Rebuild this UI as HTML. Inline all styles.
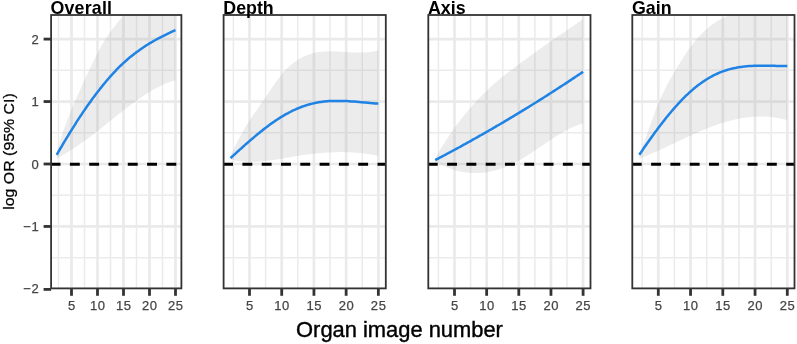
<!DOCTYPE html>
<html><head><meta charset="utf-8"><title>Organ image number</title>
<style>html,body{margin:0;padding:0;background:#fff;}svg{display:block;}</style></head>
<body>
<svg width="797" height="344" viewBox="0 0 797 344" font-family="'Liberation Sans', Arial, sans-serif">
<rect width="797" height="344" fill="#ffffff"/>
<clipPath id="c0"><rect x="51.1" y="15.0" width="130.30" height="273.40"/></clipPath>
<g clip-path="url(#c0)">
<line x1="58.50" x2="58.50" y1="15.0" y2="288.4" stroke="#ebebeb" stroke-width="1.5"/>
<line x1="84.50" x2="84.50" y1="15.0" y2="288.4" stroke="#ebebeb" stroke-width="1.5"/>
<line x1="110.50" x2="110.50" y1="15.0" y2="288.4" stroke="#ebebeb" stroke-width="1.5"/>
<line x1="136.50" x2="136.50" y1="15.0" y2="288.4" stroke="#ebebeb" stroke-width="1.5"/>
<line x1="162.50" x2="162.50" y1="15.0" y2="288.4" stroke="#ebebeb" stroke-width="1.5"/>
<line x1="51.1" x2="181.4" y1="257.68" y2="257.68" stroke="#ebebeb" stroke-width="1.5"/>
<line x1="51.1" x2="181.4" y1="195.22" y2="195.22" stroke="#ebebeb" stroke-width="1.5"/>
<line x1="51.1" x2="181.4" y1="132.78" y2="132.78" stroke="#ebebeb" stroke-width="1.5"/>
<line x1="51.1" x2="181.4" y1="70.32" y2="70.32" stroke="#ebebeb" stroke-width="1.5"/>
<line x1="71.50" x2="71.50" y1="15.0" y2="288.4" stroke="#eaeaea" stroke-width="2.7"/>
<line x1="97.50" x2="97.50" y1="15.0" y2="288.4" stroke="#eaeaea" stroke-width="2.7"/>
<line x1="123.50" x2="123.50" y1="15.0" y2="288.4" stroke="#eaeaea" stroke-width="2.7"/>
<line x1="149.50" x2="149.50" y1="15.0" y2="288.4" stroke="#eaeaea" stroke-width="2.7"/>
<line x1="175.50" x2="175.50" y1="15.0" y2="288.4" stroke="#eaeaea" stroke-width="2.7"/>
<line x1="51.1" x2="181.4" y1="288.90" y2="288.90" stroke="#eaeaea" stroke-width="2.7"/>
<line x1="51.1" x2="181.4" y1="226.45" y2="226.45" stroke="#eaeaea" stroke-width="2.7"/>
<line x1="51.1" x2="181.4" y1="164.00" y2="164.00" stroke="#eaeaea" stroke-width="2.7"/>
<line x1="51.1" x2="181.4" y1="101.55" y2="101.55" stroke="#eaeaea" stroke-width="2.7"/>
<line x1="51.1" x2="181.4" y1="39.10" y2="39.10" stroke="#eaeaea" stroke-width="2.7"/>
<polygon fill="#999999" fill-opacity="0.19" points="56.7,152.7 57.7,149.1 58.7,145.7 59.7,142.3 60.7,139.1 61.7,136.0 62.7,132.9 63.7,130.0 64.7,127.1 65.7,124.4 66.7,121.7 67.7,119.0 68.7,116.5 69.7,114.0 70.7,111.5 71.7,109.1 72.7,106.7 73.7,104.4 74.7,102.1 75.7,99.8 76.6,97.6 77.6,95.3 78.6,93.1 79.6,90.9 80.6,88.7 81.6,86.5 82.6,84.3 83.6,82.1 84.6,80.0 85.6,77.8 86.6,75.7 87.6,73.5 88.6,71.4 89.6,69.3 90.6,67.2 91.6,65.2 92.6,63.1 93.6,61.0 94.6,59.0 95.6,57.0 96.6,55.0 97.6,53.0 98.6,51.1 99.6,49.2 100.6,47.4 101.6,45.6 102.6,43.9 103.6,42.2 104.6,40.5 105.6,38.9 106.6,37.4 107.6,35.9 108.6,34.4 109.6,33.0 110.6,31.6 111.6,30.2 112.6,28.8 113.6,27.5 114.6,26.2 115.6,25.0 116.6,23.8 117.6,22.5 118.6,21.3 119.6,20.2 120.6,19.0 121.6,17.9 122.6,16.7 123.6,15.6 124.6,14.5 125.6,13.4 126.6,12.3 127.6,11.2 128.6,10.1 129.6,9.0 130.6,7.9 131.6,6.9 132.6,5.8 133.6,4.8 134.6,3.7 135.6,2.7 136.6,1.7 137.6,0.7 138.6,-0.3 139.6,-1.3 140.6,-2.3 141.6,-3.3 142.5,-4.2 143.5,-5.2 144.5,-6.1 145.5,-7.0 146.5,-8.0 147.5,-8.9 148.5,-9.8 149.5,-10.7 150.5,-11.5 151.5,-12.4 152.5,-13.3 153.5,-14.1 154.5,-14.9 155.5,-15.8 156.5,-16.6 157.5,-17.4 158.5,-18.2 159.5,-18.9 160.5,-19.7 161.5,-20.5 162.5,-21.2 163.5,-21.9 164.5,-22.6 165.5,-23.3 166.5,-24.0 167.5,-24.7 168.5,-25.4 169.5,-26.0 170.5,-26.6 171.5,-27.3 172.5,-27.9 173.5,-28.5 174.5,-29.1 175.5,-29.6 175.5,80.1 174.5,80.4 173.5,80.7 172.5,81.0 171.5,81.3 170.5,81.7 169.5,82.0 168.5,82.4 167.5,82.8 166.5,83.2 165.5,83.6 164.5,84.0 163.5,84.5 162.5,84.9 161.5,85.4 160.5,85.9 159.5,86.4 158.5,86.9 157.5,87.4 156.5,87.9 155.5,88.5 154.5,89.0 153.5,89.6 152.5,90.1 151.5,90.7 150.5,91.3 149.5,91.9 148.5,92.5 147.5,93.2 146.5,93.8 145.5,94.4 144.5,95.1 143.5,95.7 142.5,96.4 141.6,97.1 140.6,97.7 139.6,98.4 138.6,99.1 137.6,99.8 136.6,100.5 135.6,101.3 134.6,102.0 133.6,102.7 132.6,103.4 131.6,104.2 130.6,104.9 129.6,105.7 128.6,106.4 127.6,107.2 126.6,108.0 125.6,108.7 124.6,109.5 123.6,110.3 122.6,111.1 121.6,111.9 120.6,112.7 119.6,113.4 118.6,114.2 117.6,115.0 116.6,115.8 115.6,116.6 114.6,117.4 113.6,118.2 112.6,119.0 111.6,119.9 110.6,120.7 109.6,121.5 108.6,122.3 107.6,123.1 106.6,123.9 105.6,124.7 104.6,125.5 103.6,126.3 102.6,127.1 101.6,127.9 100.6,128.7 99.6,129.4 98.6,130.2 97.6,131.0 96.6,131.8 95.6,132.6 94.6,133.3 93.6,134.1 92.6,134.8 91.6,135.6 90.6,136.4 89.6,137.1 88.6,137.8 87.6,138.6 86.6,139.3 85.6,140.0 84.6,140.7 83.6,141.5 82.6,142.2 81.6,142.9 80.6,143.6 79.6,144.3 78.6,144.9 77.6,145.6 76.6,146.3 75.7,147.0 74.7,147.6 73.7,148.3 72.7,148.9 71.7,149.6 70.7,150.2 69.7,150.8 68.7,151.5 67.7,152.1 66.7,152.7 65.7,153.3 64.7,153.9 63.7,154.5 62.7,155.1 61.7,155.7 60.7,156.3 59.7,156.8 58.7,157.4 57.7,158.0 56.7,158.5"/>
<polyline fill="none" stroke="#1f82e5" stroke-width="2.5" stroke-linecap="butt" stroke-linejoin="round" points="56.7,154.8 57.7,153.1 58.7,151.4 59.7,149.7 60.7,148.0 61.7,146.3 62.7,144.6 63.7,142.9 64.7,141.2 65.7,139.6 66.7,137.9 67.7,136.3 68.7,134.6 69.7,133.0 70.7,131.4 71.7,129.8 72.7,128.2 73.7,126.6 74.7,125.1 75.7,123.5 76.6,121.9 77.6,120.4 78.6,118.9 79.6,117.4 80.6,115.8 81.6,114.4 82.6,112.9 83.6,111.4 84.6,109.9 85.6,108.5 86.6,107.0 87.6,105.6 88.6,104.2 89.6,102.8 90.6,101.4 91.6,100.0 92.6,98.6 93.6,97.3 94.6,95.9 95.6,94.6 96.6,93.3 97.6,92.0 98.6,90.7 99.6,89.4 100.6,88.1 101.6,86.9 102.6,85.6 103.6,84.4 104.6,83.2 105.6,82.0 106.6,80.8 107.6,79.6 108.6,78.5 109.6,77.3 110.6,76.2 111.6,75.1 112.6,74.0 113.6,72.9 114.6,71.8 115.6,70.8 116.6,69.7 117.6,68.7 118.6,67.7 119.6,66.7 120.6,65.7 121.6,64.8 122.6,63.8 123.6,62.9 124.6,62.0 125.6,61.1 126.6,60.2 127.6,59.3 128.6,58.4 129.6,57.6 130.6,56.8 131.6,56.0 132.6,55.2 133.6,54.4 134.6,53.6 135.6,52.9 136.6,52.1 137.6,51.4 138.6,50.7 139.6,49.9 140.6,49.2 141.6,48.6 142.5,47.9 143.5,47.2 144.5,46.6 145.5,45.9 146.5,45.3 147.5,44.7 148.5,44.0 149.5,43.4 150.5,42.8 151.5,42.3 152.5,41.7 153.5,41.1 154.5,40.5 155.5,40.0 156.5,39.4 157.5,38.9 158.5,38.4 159.5,37.8 160.5,37.3 161.5,36.8 162.5,36.3 163.5,35.8 164.5,35.3 165.5,34.8 166.5,34.3 167.5,33.8 168.5,33.3 169.5,32.9 170.5,32.4 171.5,31.9 172.5,31.4 173.5,31.0 174.5,30.5 175.5,30.1"/>
<line x1="50.60" x2="181.4" y1="164.2" y2="164.2" stroke="#000" stroke-width="3.1" stroke-dasharray="9.9 9.4"/>
</g>
<rect x="51.1" y="15.0" width="130.30" height="273.40" fill="none" stroke="#333333" stroke-width="1.8"/>
<line x1="71.50" x2="71.50" y1="288.4" y2="295.79999999999995" stroke="#333333" stroke-width="2.8"/>
<text x="71.50" y="310.0" font-size="13" fill="#454545" stroke="#454545" stroke-width="0.25" text-anchor="middle" >5</text>
<line x1="97.50" x2="97.50" y1="288.4" y2="295.79999999999995" stroke="#333333" stroke-width="2.8"/>
<text x="97.50" y="310.0" font-size="13" fill="#454545" stroke="#454545" stroke-width="0.25" text-anchor="middle" textLength="15.0" lengthAdjust="spacing">10</text>
<line x1="123.50" x2="123.50" y1="288.4" y2="295.79999999999995" stroke="#333333" stroke-width="2.8"/>
<text x="123.50" y="310.0" font-size="13" fill="#454545" stroke="#454545" stroke-width="0.25" text-anchor="middle" textLength="15.0" lengthAdjust="spacing">15</text>
<line x1="149.50" x2="149.50" y1="288.4" y2="295.79999999999995" stroke="#333333" stroke-width="2.8"/>
<text x="149.50" y="310.0" font-size="13" fill="#454545" stroke="#454545" stroke-width="0.25" text-anchor="middle" textLength="15.0" lengthAdjust="spacing">20</text>
<line x1="175.50" x2="175.50" y1="288.4" y2="295.79999999999995" stroke="#333333" stroke-width="2.8"/>
<text x="175.50" y="310.0" font-size="13" fill="#454545" stroke="#454545" stroke-width="0.25" text-anchor="middle" textLength="15.0" lengthAdjust="spacing">25</text>
<text x="50.40" y="13.6" font-size="17.8" font-weight="bold" fill="#000" textLength="61.6" lengthAdjust="spacing">Overall</text>
<clipPath id="c1"><rect x="223.6" y="15.0" width="162.20" height="273.40"/></clipPath>
<g clip-path="url(#c1)">
<line x1="233.39" x2="233.39" y1="15.0" y2="288.4" stroke="#ebebeb" stroke-width="1.5"/>
<line x1="265.61" x2="265.61" y1="15.0" y2="288.4" stroke="#ebebeb" stroke-width="1.5"/>
<line x1="297.82" x2="297.82" y1="15.0" y2="288.4" stroke="#ebebeb" stroke-width="1.5"/>
<line x1="330.04" x2="330.04" y1="15.0" y2="288.4" stroke="#ebebeb" stroke-width="1.5"/>
<line x1="362.25" x2="362.25" y1="15.0" y2="288.4" stroke="#ebebeb" stroke-width="1.5"/>
<line x1="223.6" x2="385.8" y1="257.68" y2="257.68" stroke="#ebebeb" stroke-width="1.5"/>
<line x1="223.6" x2="385.8" y1="195.22" y2="195.22" stroke="#ebebeb" stroke-width="1.5"/>
<line x1="223.6" x2="385.8" y1="132.78" y2="132.78" stroke="#ebebeb" stroke-width="1.5"/>
<line x1="223.6" x2="385.8" y1="70.32" y2="70.32" stroke="#ebebeb" stroke-width="1.5"/>
<line x1="249.50" x2="249.50" y1="15.0" y2="288.4" stroke="#eaeaea" stroke-width="2.7"/>
<line x1="281.71" x2="281.71" y1="15.0" y2="288.4" stroke="#eaeaea" stroke-width="2.7"/>
<line x1="313.93" x2="313.93" y1="15.0" y2="288.4" stroke="#eaeaea" stroke-width="2.7"/>
<line x1="346.14" x2="346.14" y1="15.0" y2="288.4" stroke="#eaeaea" stroke-width="2.7"/>
<line x1="378.36" x2="378.36" y1="15.0" y2="288.4" stroke="#eaeaea" stroke-width="2.7"/>
<line x1="223.6" x2="385.8" y1="288.90" y2="288.90" stroke="#eaeaea" stroke-width="2.7"/>
<line x1="223.6" x2="385.8" y1="226.45" y2="226.45" stroke="#eaeaea" stroke-width="2.7"/>
<line x1="223.6" x2="385.8" y1="164.00" y2="164.00" stroke="#eaeaea" stroke-width="2.7"/>
<line x1="223.6" x2="385.8" y1="101.55" y2="101.55" stroke="#eaeaea" stroke-width="2.7"/>
<line x1="223.6" x2="385.8" y1="39.10" y2="39.10" stroke="#eaeaea" stroke-width="2.7"/>
<polygon fill="#999999" fill-opacity="0.19" points="230.5,156.5 231.7,153.6 233.0,150.8 234.2,148.2 235.5,145.6 236.7,143.0 237.9,140.6 239.2,138.2 240.4,135.9 241.7,133.7 242.9,131.5 244.2,129.3 245.4,127.3 246.6,125.2 247.9,123.2 249.1,121.3 250.4,119.4 251.6,117.5 252.9,115.6 254.1,113.8 255.3,112.0 256.6,110.2 257.8,108.4 259.1,106.6 260.3,104.8 261.6,103.0 262.8,101.3 264.0,99.5 265.3,97.6 266.5,95.8 267.8,94.0 269.0,92.1 270.3,90.3 271.5,88.5 272.7,86.6 274.0,84.8 275.2,83.0 276.5,81.3 277.7,79.6 279.0,77.9 280.2,76.3 281.4,74.7 282.7,73.2 283.9,71.8 285.2,70.4 286.4,69.1 287.7,67.9 288.9,66.7 290.1,65.6 291.4,64.5 292.6,63.5 293.9,62.5 295.1,61.6 296.3,60.7 297.6,59.9 298.8,59.1 300.1,58.4 301.3,57.7 302.6,57.1 303.8,56.5 305.0,55.9 306.3,55.4 307.5,54.9 308.8,54.5 310.0,54.1 311.3,53.7 312.5,53.3 313.7,53.0 315.0,52.7 316.2,52.5 317.5,52.3 318.7,52.1 320.0,51.9 321.2,51.7 322.4,51.6 323.7,51.5 324.9,51.4 326.2,51.4 327.4,51.3 328.7,51.3 329.9,51.3 331.1,51.3 332.4,51.3 333.6,51.3 334.9,51.4 336.1,51.4 337.4,51.5 338.6,51.5 339.8,51.6 341.1,51.7 342.3,51.8 343.6,51.9 344.8,51.9 346.1,52.0 347.3,52.1 348.5,52.2 349.8,52.3 351.0,52.3 352.3,52.4 353.5,52.5 354.8,52.5 356.0,52.6 357.2,52.6 358.5,52.6 359.7,52.6 361.0,52.6 362.2,52.6 363.4,52.6 364.7,52.5 365.9,52.4 367.2,52.3 368.4,52.2 369.7,52.1 370.9,51.9 372.1,51.7 373.4,51.5 374.6,51.3 375.9,51.0 377.1,50.7 378.4,50.4 378.4,155.9 377.1,155.6 375.9,155.4 374.6,155.1 373.4,154.9 372.1,154.7 370.9,154.5 369.7,154.3 368.4,154.1 367.2,153.9 365.9,153.7 364.7,153.6 363.4,153.4 362.2,153.3 361.0,153.2 359.7,153.0 358.5,152.9 357.2,152.8 356.0,152.7 354.8,152.6 353.5,152.5 352.3,152.5 351.0,152.4 349.8,152.3 348.5,152.3 347.3,152.2 346.1,152.2 344.8,152.2 343.6,152.1 342.3,152.1 341.1,152.1 339.8,152.1 338.6,152.1 337.4,152.2 336.1,152.2 334.9,152.2 333.6,152.2 332.4,152.3 331.1,152.3 329.9,152.4 328.7,152.5 327.4,152.5 326.2,152.6 324.9,152.7 323.7,152.8 322.4,152.9 321.2,153.0 320.0,153.1 318.7,153.2 317.5,153.3 316.2,153.4 315.0,153.6 313.7,153.7 312.5,153.8 311.3,154.0 310.0,154.1 308.8,154.3 307.5,154.4 306.3,154.6 305.0,154.8 303.8,155.0 302.6,155.1 301.3,155.3 300.1,155.5 298.8,155.7 297.6,155.9 296.3,156.1 295.1,156.3 293.9,156.5 292.6,156.7 291.4,156.9 290.1,157.2 288.9,157.4 287.7,157.6 286.4,157.8 285.2,158.0 283.9,158.2 282.7,158.5 281.4,158.7 280.2,158.9 279.0,159.1 277.7,159.3 276.5,159.5 275.2,159.7 274.0,159.9 272.7,160.1 271.5,160.2 270.3,160.4 269.0,160.6 267.8,160.7 266.5,160.9 265.3,161.0 264.0,161.1 262.8,161.3 261.6,161.4 260.3,161.5 259.1,161.6 257.8,161.7 256.6,161.7 255.3,161.8 254.1,161.8 252.9,161.8 251.6,161.9 250.4,161.8 249.1,161.8 247.9,161.8 246.6,161.7 245.4,161.7 244.2,161.6 242.9,161.5 241.7,161.4 240.4,161.2 239.2,161.1 237.9,160.9 236.7,160.7 235.5,160.5 234.2,160.2 233.0,160.0 231.7,159.7 230.5,159.4"/>
<polyline fill="none" stroke="#1f82e5" stroke-width="2.5" stroke-linecap="butt" stroke-linejoin="round" points="230.5,158.1 231.7,157.0 233.0,155.8 234.2,154.7 235.5,153.6 236.7,152.4 237.9,151.3 239.2,150.2 240.4,149.1 241.7,148.0 242.9,146.8 244.2,145.7 245.4,144.6 246.6,143.5 247.9,142.5 249.1,141.4 250.4,140.3 251.6,139.2 252.9,138.2 254.1,137.1 255.3,136.1 256.6,135.0 257.8,134.0 259.1,133.0 260.3,132.0 261.6,131.0 262.8,130.0 264.0,129.0 265.3,128.1 266.5,127.1 267.8,126.2 269.0,125.3 270.3,124.3 271.5,123.4 272.7,122.6 274.0,121.7 275.2,120.9 276.5,120.0 277.7,119.2 279.0,118.4 280.2,117.6 281.4,116.8 282.7,116.1 283.9,115.4 285.2,114.6 286.4,113.9 287.7,113.3 288.9,112.6 290.1,112.0 291.4,111.3 292.6,110.7 293.9,110.1 295.1,109.6 296.3,109.0 297.6,108.5 298.8,108.0 300.1,107.5 301.3,107.0 302.6,106.5 303.8,106.1 305.0,105.7 306.3,105.3 307.5,104.9 308.8,104.5 310.0,104.2 311.3,103.9 312.5,103.6 313.7,103.3 315.0,103.0 316.2,102.7 317.5,102.5 318.7,102.3 320.0,102.1 321.2,101.9 322.4,101.7 323.7,101.6 324.9,101.5 326.2,101.3 327.4,101.2 328.7,101.1 329.9,101.1 331.1,101.0 332.4,101.0 333.6,100.9 334.9,100.9 336.1,100.9 337.4,100.9 338.6,100.9 339.8,100.9 341.1,100.9 342.3,100.9 343.6,101.0 344.8,101.0 346.1,101.1 347.3,101.1 348.5,101.2 349.8,101.3 351.0,101.4 352.3,101.5 353.5,101.5 354.8,101.6 356.0,101.7 357.2,101.8 358.5,101.9 359.7,102.1 361.0,102.2 362.2,102.3 363.4,102.4 364.7,102.5 365.9,102.6 367.2,102.7 368.4,102.8 369.7,102.9 370.9,103.1 372.1,103.2 373.4,103.3 374.6,103.4 375.9,103.5 377.1,103.6 378.4,103.6"/>
<line x1="223.10" x2="385.8" y1="164.2" y2="164.2" stroke="#000" stroke-width="3.1" stroke-dasharray="9.9 9.4"/>
</g>
<rect x="223.6" y="15.0" width="162.20" height="273.40" fill="none" stroke="#333333" stroke-width="1.8"/>
<line x1="249.50" x2="249.50" y1="288.4" y2="295.79999999999995" stroke="#333333" stroke-width="2.8"/>
<text x="249.50" y="310.0" font-size="13" fill="#454545" stroke="#454545" stroke-width="0.25" text-anchor="middle" >5</text>
<line x1="281.71" x2="281.71" y1="288.4" y2="295.79999999999995" stroke="#333333" stroke-width="2.8"/>
<text x="281.71" y="310.0" font-size="13" fill="#454545" stroke="#454545" stroke-width="0.25" text-anchor="middle" textLength="15.0" lengthAdjust="spacing">10</text>
<line x1="313.93" x2="313.93" y1="288.4" y2="295.79999999999995" stroke="#333333" stroke-width="2.8"/>
<text x="313.93" y="310.0" font-size="13" fill="#454545" stroke="#454545" stroke-width="0.25" text-anchor="middle" textLength="15.0" lengthAdjust="spacing">15</text>
<line x1="346.14" x2="346.14" y1="288.4" y2="295.79999999999995" stroke="#333333" stroke-width="2.8"/>
<text x="346.14" y="310.0" font-size="13" fill="#454545" stroke="#454545" stroke-width="0.25" text-anchor="middle" textLength="15.0" lengthAdjust="spacing">20</text>
<line x1="378.36" x2="378.36" y1="288.4" y2="295.79999999999995" stroke="#333333" stroke-width="2.8"/>
<text x="378.36" y="310.0" font-size="13" fill="#454545" stroke="#454545" stroke-width="0.25" text-anchor="middle" textLength="15.0" lengthAdjust="spacing">25</text>
<text x="223.30" y="13.6" font-size="17.8" font-weight="bold" fill="#000">Depth</text>
<clipPath id="c2"><rect x="428.3" y="15.0" width="162.20" height="273.40"/></clipPath>
<g clip-path="url(#c2)">
<line x1="438.43" x2="438.43" y1="15.0" y2="288.4" stroke="#ebebeb" stroke-width="1.5"/>
<line x1="470.57" x2="470.57" y1="15.0" y2="288.4" stroke="#ebebeb" stroke-width="1.5"/>
<line x1="502.73" x2="502.73" y1="15.0" y2="288.4" stroke="#ebebeb" stroke-width="1.5"/>
<line x1="534.88" x2="534.88" y1="15.0" y2="288.4" stroke="#ebebeb" stroke-width="1.5"/>
<line x1="567.02" x2="567.02" y1="15.0" y2="288.4" stroke="#ebebeb" stroke-width="1.5"/>
<line x1="428.3" x2="590.5" y1="257.68" y2="257.68" stroke="#ebebeb" stroke-width="1.5"/>
<line x1="428.3" x2="590.5" y1="195.22" y2="195.22" stroke="#ebebeb" stroke-width="1.5"/>
<line x1="428.3" x2="590.5" y1="132.78" y2="132.78" stroke="#ebebeb" stroke-width="1.5"/>
<line x1="428.3" x2="590.5" y1="70.32" y2="70.32" stroke="#ebebeb" stroke-width="1.5"/>
<line x1="454.50" x2="454.50" y1="15.0" y2="288.4" stroke="#eaeaea" stroke-width="2.7"/>
<line x1="486.65" x2="486.65" y1="15.0" y2="288.4" stroke="#eaeaea" stroke-width="2.7"/>
<line x1="518.80" x2="518.80" y1="15.0" y2="288.4" stroke="#eaeaea" stroke-width="2.7"/>
<line x1="550.95" x2="550.95" y1="15.0" y2="288.4" stroke="#eaeaea" stroke-width="2.7"/>
<line x1="583.10" x2="583.10" y1="15.0" y2="288.4" stroke="#eaeaea" stroke-width="2.7"/>
<line x1="428.3" x2="590.5" y1="288.90" y2="288.90" stroke="#eaeaea" stroke-width="2.7"/>
<line x1="428.3" x2="590.5" y1="226.45" y2="226.45" stroke="#eaeaea" stroke-width="2.7"/>
<line x1="428.3" x2="590.5" y1="164.00" y2="164.00" stroke="#eaeaea" stroke-width="2.7"/>
<line x1="428.3" x2="590.5" y1="101.55" y2="101.55" stroke="#eaeaea" stroke-width="2.7"/>
<line x1="428.3" x2="590.5" y1="39.10" y2="39.10" stroke="#eaeaea" stroke-width="2.7"/>
<polygon fill="#999999" fill-opacity="0.19" points="435.2,158.3 436.5,156.1 437.7,154.0 438.9,151.9 440.2,149.8 441.4,147.7 442.7,145.7 443.9,143.7 445.2,141.7 446.4,139.8 447.6,137.9 448.9,136.0 450.1,134.2 451.4,132.4 452.6,130.6 453.9,128.9 455.1,127.1 456.3,125.4 457.6,123.8 458.8,122.1 460.1,120.5 461.3,118.9 462.6,117.3 463.8,115.7 465.0,114.2 466.3,112.7 467.5,111.2 468.8,109.8 470.0,108.3 471.3,106.9 472.5,105.5 473.7,104.1 475.0,102.7 476.2,101.4 477.5,100.1 478.7,98.7 479.9,97.5 481.2,96.2 482.4,94.9 483.7,93.7 484.9,92.5 486.2,91.2 487.4,90.1 488.6,88.9 489.9,87.7 491.1,86.6 492.4,85.5 493.6,84.3 494.9,83.2 496.1,82.2 497.3,81.1 498.6,80.0 499.8,79.0 501.1,77.9 502.3,76.9 503.6,75.9 504.8,74.9 506.0,73.9 507.3,73.0 508.5,72.0 509.8,71.0 511.0,70.1 512.3,69.2 513.5,68.2 514.7,67.3 516.0,66.4 517.2,65.4 518.5,64.5 519.7,63.6 521.0,62.7 522.2,61.8 523.4,60.9 524.7,60.0 525.9,59.1 527.2,58.2 528.4,57.2 529.7,56.3 530.9,55.4 532.1,54.6 533.4,53.7 534.6,52.8 535.9,51.9 537.1,51.0 538.4,50.1 539.6,49.2 540.8,48.3 542.1,47.4 543.3,46.6 544.6,45.7 545.8,44.8 547.1,43.9 548.3,43.1 549.5,42.2 550.8,41.3 552.0,40.5 553.3,39.6 554.5,38.7 555.8,37.9 557.0,37.0 558.2,36.1 559.5,35.3 560.7,34.4 562.0,33.6 563.2,32.7 564.5,31.9 565.7,31.0 566.9,30.2 568.2,29.3 569.4,28.5 570.7,27.6 571.9,26.8 573.2,26.0 574.4,25.1 575.6,24.3 576.9,23.4 578.1,22.6 579.4,21.8 580.6,20.9 581.9,20.1 583.1,19.3 583.1,123.4 581.9,123.7 580.6,124.1 579.4,124.5 578.1,124.9 576.9,125.4 575.6,125.8 574.4,126.4 573.2,126.9 571.9,127.5 570.7,128.0 569.4,128.6 568.2,129.3 566.9,129.9 565.7,130.6 564.5,131.3 563.2,132.0 562.0,132.7 560.7,133.4 559.5,134.2 558.2,134.9 557.0,135.7 555.8,136.5 554.5,137.3 553.3,138.1 552.0,138.9 550.8,139.7 549.5,140.6 548.3,141.4 547.1,142.3 545.8,143.1 544.6,144.0 543.3,144.8 542.1,145.7 540.8,146.5 539.6,147.4 538.4,148.2 537.1,149.1 535.9,149.9 534.6,150.7 533.4,151.6 532.1,152.4 530.9,153.2 529.7,154.0 528.4,154.8 527.2,155.6 525.9,156.4 524.7,157.2 523.4,157.9 522.2,158.7 521.0,159.4 519.7,160.1 518.5,160.8 517.2,161.5 516.0,162.1 514.7,162.8 513.5,163.4 512.3,164.0 511.0,164.6 509.8,165.1 508.5,165.7 507.3,166.2 506.0,166.7 504.8,167.2 503.6,167.7 502.3,168.1 501.1,168.6 499.8,169.0 498.6,169.4 497.3,169.7 496.1,170.1 494.9,170.4 493.6,170.7 492.4,171.0 491.1,171.3 489.9,171.6 488.6,171.8 487.4,172.0 486.2,172.2 484.9,172.4 483.7,172.5 482.4,172.7 481.2,172.8 479.9,172.9 478.7,173.0 477.5,173.0 476.2,173.0 475.0,173.0 473.7,173.0 472.5,173.0 471.3,172.9 470.0,172.9 468.8,172.8 467.5,172.6 466.3,172.5 465.0,172.3 463.8,172.1 462.6,171.9 461.3,171.7 460.1,171.4 458.8,171.2 457.6,170.9 456.3,170.5 455.1,170.2 453.9,169.8 452.6,169.4 451.4,169.0 450.1,168.6 448.9,168.1 447.6,167.6 446.4,167.1 445.2,166.6 443.9,166.0 442.7,165.5 441.4,164.9 440.2,164.2 438.9,163.6 437.7,162.9 436.5,162.2 435.2,161.5"/>
<polyline fill="none" stroke="#1f82e5" stroke-width="2.5" stroke-linecap="butt" stroke-linejoin="round" points="435.2,160.1 436.5,159.4 437.7,158.8 438.9,158.1 440.2,157.4 441.4,156.8 442.7,156.1 443.9,155.5 445.2,154.8 446.4,154.2 447.6,153.5 448.9,152.8 450.1,152.2 451.4,151.5 452.6,150.8 453.9,150.2 455.1,149.5 456.3,148.8 457.6,148.1 458.8,147.5 460.1,146.8 461.3,146.1 462.6,145.4 463.8,144.7 465.0,144.1 466.3,143.4 467.5,142.7 468.8,142.0 470.0,141.3 471.3,140.6 472.5,139.9 473.7,139.2 475.0,138.5 476.2,137.8 477.5,137.1 478.7,136.4 479.9,135.7 481.2,135.0 482.4,134.3 483.7,133.6 484.9,132.9 486.2,132.2 487.4,131.5 488.6,130.8 489.9,130.0 491.1,129.3 492.4,128.6 493.6,127.9 494.9,127.2 496.1,126.4 497.3,125.7 498.6,125.0 499.8,124.3 501.1,123.5 502.3,122.8 503.6,122.1 504.8,121.3 506.0,120.6 507.3,119.9 508.5,119.1 509.8,118.4 511.0,117.6 512.3,116.9 513.5,116.2 514.7,115.4 516.0,114.7 517.2,113.9 518.5,113.2 519.7,112.4 521.0,111.6 522.2,110.9 523.4,110.1 524.7,109.4 525.9,108.6 527.2,107.8 528.4,107.1 529.7,106.3 530.9,105.5 532.1,104.8 533.4,104.0 534.6,103.2 535.9,102.5 537.1,101.7 538.4,100.9 539.6,100.1 540.8,99.3 542.1,98.6 543.3,97.8 544.6,97.0 545.8,96.2 547.1,95.4 548.3,94.6 549.5,93.8 550.8,93.0 552.0,92.2 553.3,91.4 554.5,90.6 555.8,89.8 557.0,89.0 558.2,88.2 559.5,87.4 560.7,86.6 562.0,85.8 563.2,85.0 564.5,84.2 565.7,83.4 566.9,82.6 568.2,81.7 569.4,80.9 570.7,80.1 571.9,79.3 573.2,78.4 574.4,77.6 575.6,76.8 576.9,76.0 578.1,75.1 579.4,74.3 580.6,73.5 581.9,72.6 583.1,71.8"/>
<line x1="427.80" x2="590.5" y1="164.2" y2="164.2" stroke="#000" stroke-width="3.1" stroke-dasharray="9.9 9.4"/>
</g>
<rect x="428.3" y="15.0" width="162.20" height="273.40" fill="none" stroke="#333333" stroke-width="1.8"/>
<line x1="454.50" x2="454.50" y1="288.4" y2="295.79999999999995" stroke="#333333" stroke-width="2.8"/>
<text x="454.50" y="310.0" font-size="13" fill="#454545" stroke="#454545" stroke-width="0.25" text-anchor="middle" >5</text>
<line x1="486.65" x2="486.65" y1="288.4" y2="295.79999999999995" stroke="#333333" stroke-width="2.8"/>
<text x="486.65" y="310.0" font-size="13" fill="#454545" stroke="#454545" stroke-width="0.25" text-anchor="middle" textLength="15.0" lengthAdjust="spacing">10</text>
<line x1="518.80" x2="518.80" y1="288.4" y2="295.79999999999995" stroke="#333333" stroke-width="2.8"/>
<text x="518.80" y="310.0" font-size="13" fill="#454545" stroke="#454545" stroke-width="0.25" text-anchor="middle" textLength="15.0" lengthAdjust="spacing">15</text>
<line x1="550.95" x2="550.95" y1="288.4" y2="295.79999999999995" stroke="#333333" stroke-width="2.8"/>
<text x="550.95" y="310.0" font-size="13" fill="#454545" stroke="#454545" stroke-width="0.25" text-anchor="middle" textLength="15.0" lengthAdjust="spacing">20</text>
<line x1="583.10" x2="583.10" y1="288.4" y2="295.79999999999995" stroke="#333333" stroke-width="2.8"/>
<text x="583.10" y="310.0" font-size="13" fill="#454545" stroke="#454545" stroke-width="0.25" text-anchor="middle" textLength="15.0" lengthAdjust="spacing">25</text>
<text x="428.00" y="13.6" font-size="17.8" font-weight="bold" fill="#000">Axis</text>
<clipPath id="c3"><rect x="632.3" y="15.0" width="162.20" height="273.40"/></clipPath>
<g clip-path="url(#c3)">
<line x1="642.17" x2="642.17" y1="15.0" y2="288.4" stroke="#ebebeb" stroke-width="1.5"/>
<line x1="674.42" x2="674.42" y1="15.0" y2="288.4" stroke="#ebebeb" stroke-width="1.5"/>
<line x1="706.67" x2="706.67" y1="15.0" y2="288.4" stroke="#ebebeb" stroke-width="1.5"/>
<line x1="738.92" x2="738.92" y1="15.0" y2="288.4" stroke="#ebebeb" stroke-width="1.5"/>
<line x1="771.17" x2="771.17" y1="15.0" y2="288.4" stroke="#ebebeb" stroke-width="1.5"/>
<line x1="632.3" x2="794.5" y1="257.68" y2="257.68" stroke="#ebebeb" stroke-width="1.5"/>
<line x1="632.3" x2="794.5" y1="195.22" y2="195.22" stroke="#ebebeb" stroke-width="1.5"/>
<line x1="632.3" x2="794.5" y1="132.78" y2="132.78" stroke="#ebebeb" stroke-width="1.5"/>
<line x1="632.3" x2="794.5" y1="70.32" y2="70.32" stroke="#ebebeb" stroke-width="1.5"/>
<line x1="658.30" x2="658.30" y1="15.0" y2="288.4" stroke="#eaeaea" stroke-width="2.7"/>
<line x1="690.55" x2="690.55" y1="15.0" y2="288.4" stroke="#eaeaea" stroke-width="2.7"/>
<line x1="722.80" x2="722.80" y1="15.0" y2="288.4" stroke="#eaeaea" stroke-width="2.7"/>
<line x1="755.05" x2="755.05" y1="15.0" y2="288.4" stroke="#eaeaea" stroke-width="2.7"/>
<line x1="787.30" x2="787.30" y1="15.0" y2="288.4" stroke="#eaeaea" stroke-width="2.7"/>
<line x1="632.3" x2="794.5" y1="288.90" y2="288.90" stroke="#eaeaea" stroke-width="2.7"/>
<line x1="632.3" x2="794.5" y1="226.45" y2="226.45" stroke="#eaeaea" stroke-width="2.7"/>
<line x1="632.3" x2="794.5" y1="164.00" y2="164.00" stroke="#eaeaea" stroke-width="2.7"/>
<line x1="632.3" x2="794.5" y1="101.55" y2="101.55" stroke="#eaeaea" stroke-width="2.7"/>
<line x1="632.3" x2="794.5" y1="39.10" y2="39.10" stroke="#eaeaea" stroke-width="2.7"/>
<polygon fill="#999999" fill-opacity="0.19" points="639.3,153.5 640.5,150.8 641.8,148.0 643.0,144.9 644.2,141.7 645.5,138.4 646.7,135.0 648.0,131.6 649.2,128.1 650.5,124.5 651.7,121.0 653.0,117.6 654.2,114.2 655.4,110.8 656.7,107.6 657.9,104.5 659.2,101.5 660.4,98.6 661.7,95.9 662.9,93.2 664.2,90.7 665.4,88.2 666.6,85.8 667.9,83.5 669.1,81.3 670.4,79.0 671.6,76.8 672.9,74.7 674.1,72.5 675.3,70.4 676.6,68.3 677.8,66.2 679.1,64.2 680.3,62.2 681.6,60.2 682.8,58.3 684.1,56.3 685.3,54.5 686.5,52.6 687.8,50.8 689.0,49.1 690.3,47.3 691.5,45.7 692.8,44.0 694.0,42.4 695.2,40.9 696.5,39.4 697.7,38.0 699.0,36.6 700.2,35.2 701.5,33.9 702.7,32.7 704.0,31.5 705.2,30.3 706.4,29.2 707.7,28.1 708.9,27.1 710.2,26.1 711.4,25.1 712.7,24.2 713.9,23.3 715.2,22.5 716.4,21.7 717.6,20.9 718.9,20.2 720.1,19.5 721.4,18.9 722.6,18.2 723.9,17.7 725.1,17.1 726.3,16.6 727.6,16.1 728.8,15.6 730.1,15.2 731.3,14.7 732.6,14.3 733.8,14.0 735.1,13.6 736.3,13.3 737.5,13.0 738.8,12.8 740.0,12.5 741.3,12.3 742.5,12.1 743.8,11.9 745.0,11.7 746.3,11.6 747.5,11.4 748.7,11.3 750.0,11.2 751.2,11.1 752.5,11.0 753.7,10.9 755.0,10.9 756.2,10.8 757.4,10.8 758.7,10.7 759.9,10.7 761.2,10.7 762.4,10.7 763.7,10.7 764.9,10.7 766.2,10.7 767.4,10.7 768.6,10.7 769.9,10.7 771.1,10.7 772.4,10.7 773.6,10.7 774.9,10.7 776.1,10.7 777.3,10.7 778.6,10.7 779.8,10.7 781.1,10.7 782.3,10.6 783.6,10.6 784.8,10.5 786.1,10.5 787.3,10.4 787.3,120.2 786.1,119.9 784.8,119.6 783.6,119.2 782.3,118.9 781.1,118.7 779.8,118.4 778.6,118.2 777.3,117.9 776.1,117.7 774.9,117.5 773.6,117.4 772.4,117.2 771.1,117.1 769.9,116.9 768.6,116.8 767.4,116.7 766.2,116.7 764.9,116.6 763.7,116.6 762.4,116.5 761.2,116.5 759.9,116.5 758.7,116.5 757.4,116.6 756.2,116.6 755.0,116.7 753.7,116.7 752.5,116.8 751.2,116.9 750.0,117.0 748.7,117.2 747.5,117.3 746.3,117.5 745.0,117.7 743.8,117.8 742.5,118.0 741.3,118.2 740.0,118.5 738.8,118.7 737.5,119.0 736.3,119.2 735.1,119.5 733.8,119.8 732.6,120.1 731.3,120.4 730.1,120.7 728.8,121.0 727.6,121.4 726.3,121.7 725.1,122.1 723.9,122.5 722.6,122.8 721.4,123.2 720.1,123.7 718.9,124.1 717.6,124.5 716.4,124.9 715.2,125.4 713.9,125.8 712.7,126.3 711.4,126.7 710.2,127.2 708.9,127.7 707.7,128.2 706.4,128.7 705.2,129.2 704.0,129.7 702.7,130.2 701.5,130.8 700.2,131.3 699.0,131.8 697.7,132.4 696.5,132.9 695.2,133.5 694.0,134.0 692.8,134.6 691.5,135.1 690.3,135.7 689.0,136.3 687.8,136.8 686.5,137.4 685.3,138.0 684.1,138.6 682.8,139.2 681.6,139.8 680.3,140.3 679.1,140.9 677.8,141.5 676.6,142.1 675.3,142.7 674.1,143.3 672.9,143.9 671.6,144.5 670.4,145.0 669.1,145.6 667.9,146.2 666.6,146.8 665.4,147.4 664.2,148.0 662.9,148.5 661.7,149.1 660.4,149.7 659.2,150.3 657.9,150.8 656.7,151.4 655.4,151.9 654.2,152.5 653.0,153.1 651.7,153.6 650.5,154.1 649.2,154.7 648.0,155.2 646.7,155.7 645.5,156.2 644.2,156.8 643.0,157.3 641.8,157.8 640.5,158.2 639.3,158.7"/>
<polyline fill="none" stroke="#1f82e5" stroke-width="2.5" stroke-linecap="butt" stroke-linejoin="round" points="639.3,154.8 640.5,153.0 641.8,151.2 643.0,149.4 644.2,147.6 645.5,145.8 646.7,144.0 648.0,142.2 649.2,140.5 650.5,138.7 651.7,137.0 653.0,135.3 654.2,133.5 655.4,131.8 656.7,130.2 657.9,128.5 659.2,126.8 660.4,125.2 661.7,123.6 662.9,122.0 664.2,120.4 665.4,118.8 666.6,117.3 667.9,115.7 669.1,114.2 670.4,112.7 671.6,111.3 672.9,109.8 674.1,108.4 675.3,107.0 676.6,105.6 677.8,104.2 679.1,102.8 680.3,101.5 681.6,100.2 682.8,98.9 684.1,97.7 685.3,96.4 686.5,95.2 687.8,94.1 689.0,92.9 690.3,91.8 691.5,90.7 692.8,89.6 694.0,88.5 695.2,87.5 696.5,86.5 697.7,85.5 699.0,84.6 700.2,83.7 701.5,82.8 702.7,81.9 704.0,81.1 705.2,80.3 706.4,79.5 707.7,78.7 708.9,78.0 710.2,77.2 711.4,76.6 712.7,75.9 713.9,75.2 715.2,74.6 716.4,74.0 717.6,73.5 718.9,72.9 720.1,72.4 721.4,71.9 722.6,71.4 723.9,71.0 725.1,70.6 726.3,70.2 727.6,69.8 728.8,69.4 730.1,69.1 731.3,68.8 732.6,68.5 733.8,68.2 735.1,67.9 736.3,67.7 737.5,67.4 738.8,67.2 740.0,67.0 741.3,66.9 742.5,66.7 743.8,66.6 745.0,66.4 746.3,66.3 747.5,66.2 748.7,66.1 750.0,66.0 751.2,65.9 752.5,65.9 753.7,65.8 755.0,65.8 756.2,65.7 757.4,65.7 758.7,65.7 759.9,65.7 761.2,65.7 762.4,65.7 763.7,65.7 764.9,65.7 766.2,65.7 767.4,65.7 768.6,65.7 769.9,65.7 771.1,65.8 772.4,65.8 773.6,65.8 774.9,65.8 776.1,65.9 777.3,65.9 778.6,65.9 779.8,65.9 781.1,65.9 782.3,65.9 783.6,65.9 784.8,65.9 786.1,65.9 787.3,65.9"/>
<line x1="631.80" x2="794.5" y1="164.2" y2="164.2" stroke="#000" stroke-width="3.1" stroke-dasharray="9.9 9.4"/>
</g>
<rect x="632.3" y="15.0" width="162.20" height="273.40" fill="none" stroke="#333333" stroke-width="1.8"/>
<line x1="658.30" x2="658.30" y1="288.4" y2="295.79999999999995" stroke="#333333" stroke-width="2.8"/>
<text x="658.30" y="310.0" font-size="13" fill="#454545" stroke="#454545" stroke-width="0.25" text-anchor="middle" >5</text>
<line x1="690.55" x2="690.55" y1="288.4" y2="295.79999999999995" stroke="#333333" stroke-width="2.8"/>
<text x="690.55" y="310.0" font-size="13" fill="#454545" stroke="#454545" stroke-width="0.25" text-anchor="middle" textLength="15.0" lengthAdjust="spacing">10</text>
<line x1="722.80" x2="722.80" y1="288.4" y2="295.79999999999995" stroke="#333333" stroke-width="2.8"/>
<text x="722.80" y="310.0" font-size="13" fill="#454545" stroke="#454545" stroke-width="0.25" text-anchor="middle" textLength="15.0" lengthAdjust="spacing">15</text>
<line x1="755.05" x2="755.05" y1="288.4" y2="295.79999999999995" stroke="#333333" stroke-width="2.8"/>
<text x="755.05" y="310.0" font-size="13" fill="#454545" stroke="#454545" stroke-width="0.25" text-anchor="middle" textLength="15.0" lengthAdjust="spacing">20</text>
<line x1="787.30" x2="787.30" y1="288.4" y2="295.79999999999995" stroke="#333333" stroke-width="2.8"/>
<text x="787.30" y="310.0" font-size="13" fill="#454545" stroke="#454545" stroke-width="0.25" text-anchor="middle" textLength="15.0" lengthAdjust="spacing">25</text>
<text x="632.00" y="13.6" font-size="17.8" font-weight="bold" fill="#000">Gain</text>
<line x1="43.60" x2="51.1" y1="289.40" y2="289.40" stroke="#333333" stroke-width="2.8"/>
<text x="38.7" y="292.90" font-size="13" fill="#454545" stroke="#454545" stroke-width="0.25" text-anchor="end" textLength="15.4" lengthAdjust="spacing">−2</text>
<line x1="43.60" x2="51.1" y1="226.45" y2="226.45" stroke="#333333" stroke-width="2.8"/>
<text x="38.7" y="231.05" font-size="13" fill="#454545" stroke="#454545" stroke-width="0.25" text-anchor="end" textLength="15.4" lengthAdjust="spacing">−1</text>
<line x1="43.60" x2="51.1" y1="164.00" y2="164.00" stroke="#333333" stroke-width="2.8"/>
<text x="38.7" y="168.80" font-size="13" fill="#454545" stroke="#454545" stroke-width="0.25" text-anchor="end" >0</text>
<line x1="43.60" x2="51.1" y1="101.55" y2="101.55" stroke="#333333" stroke-width="2.8"/>
<text x="38.7" y="106.45" font-size="13" fill="#454545" stroke="#454545" stroke-width="0.25" text-anchor="end" >1</text>
<line x1="43.60" x2="51.1" y1="39.10" y2="39.10" stroke="#333333" stroke-width="2.8"/>
<text x="38.7" y="44.00" font-size="13" fill="#454545" stroke="#454545" stroke-width="0.25" text-anchor="end" >2</text>
<text transform="translate(13.6,151.5) rotate(-90)" font-size="14.5" fill="#000" stroke="#000" stroke-width="0.25" text-anchor="middle" textLength="116.6" lengthAdjust="spacingAndGlyphs">log OR (95% CI)</text>
<text x="399.5" y="337.3" font-size="21.9" fill="#000" stroke="#000" stroke-width="0.4" text-anchor="middle">Organ image number</text>
</svg>
</body></html>
